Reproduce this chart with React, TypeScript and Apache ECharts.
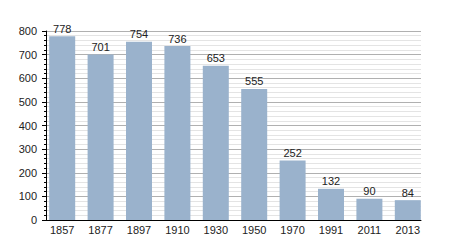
import React, { useEffect, useRef } from "react";
import * as echarts from "echarts";

const years = ["1857", "1877", "1897", "1910", "1930", "1950", "1970", "1991", "2011", "2013"];
const population = [778, 701, 754, 736, 653, 555, 252, 132, 90, 84];
const yTicks = [0, 100, 200, 300, 400, 500, 600, 700, 800];

export default function App() {
  const ref = useRef<HTMLDivElement>(null);
  useEffect(() => {
    if (!ref.current) return;
    const chart = echarts.init(ref.current, null, { renderer: "svg" });
    const font = "'Liberation Sans', Arial, sans-serif";
    chart.setOption({
      animation: false,
      backgroundColor: "#ffffff",
      textStyle: { fontFamily: font },
      grid: [
        { left: 46, right: 29, top: 31, bottom: 30, containLabel: false },
        { left: 43, right: 23, top: 31, bottom: 30, containLabel: false },
      ],
      xAxis: [
        {
          type: "category",
          gridIndex: 0,
          data: years,
          axisLine: { show: true, lineStyle: { color: "#000", width: 1 } },
          axisTick: { show: false },
          axisLabel: { show: false },
          splitLine: { show: false },
        },
        {
          type: "category",
          gridIndex: 1,
          data: years,
          axisLine: { show: false },
          axisTick: { show: false },
          axisLabel: { show: true, color: "#222", fontSize: 11, margin: 4, fontFamily: font },
          splitLine: { show: false },
        },
      ],
      yAxis: [
        {
          type: "value",
          gridIndex: 0,
          min: yTicks[0],
          max: yTicks[yTicks.length - 1],
          interval: 100,
          axisLine: { show: true, lineStyle: { color: "#000", width: 1 } },
          axisTick: { show: true, length: 4, lineStyle: { color: "#000" } },
          minorTick: { show: true, splitNumber: 5, length: 2, lineStyle: { color: "#000" } },
          axisLabel: { color: "#222", fontSize: 11, margin: 9, fontFamily: font },
          splitLine: { show: true, lineStyle: { color: "#b0b0b0", width: 1 } },
          minorSplitLine: { show: true, lineStyle: { color: "#e4e4e4", width: 1 } },
        },
        {
          type: "value",
          gridIndex: 1,
          min: yTicks[0],
          max: yTicks[yTicks.length - 1],
          interval: 100,
          show: false,
          splitLine: { show: false },
        },
      ],
      series: [
        {
          type: "bar",
          xAxisIndex: 1,
          yAxisIndex: 1,
          data: population,
          barWidth: 26,
          itemStyle: { color: "#9ab2cc" },
          label: {
            show: true,
            position: "top",
            distance: 2,
            color: "#222",
            fontSize: 11,
            fontFamily: font,
          },
          z: 3,
        },
      ],
    });
    return () => chart.dispose();
  }, []);
  return <div ref={ref} style={{ width: 450, height: 250, position: "absolute", left: 0, top: 0 }} />;
}
